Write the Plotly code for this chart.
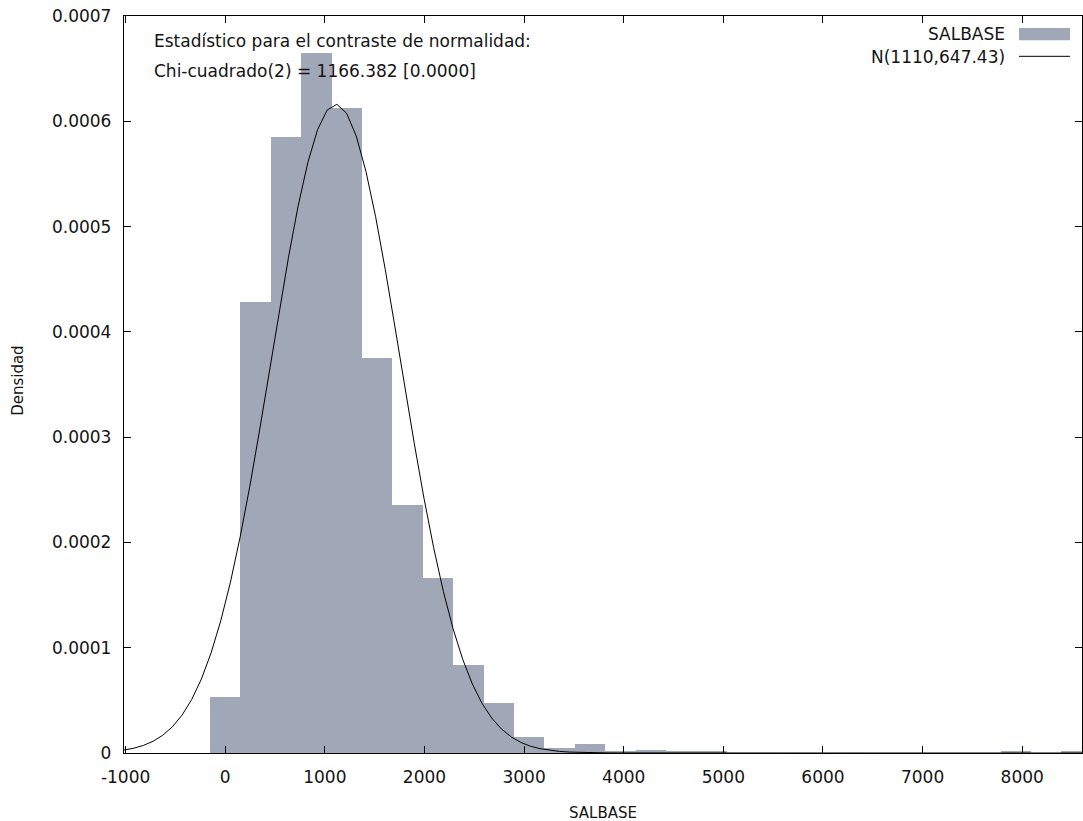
import numpy as np
import plotly.graph_objects as go

# ---- data ----
bin_centers = [0, 305, 610, 916, 1221, 1526, 1831, 2136, 2442, 2747, 3052, 3357,
               3662, 3968, 4273, 4578, 4883, 5188, 5494, 5799, 6104, 6409, 6714,
               7020, 7325, 7630, 7935, 8240, 8546]
densities = [0.0000536, 0.000428, 0.000585, 0.000665, 0.000613, 0.000375,
             0.000236, 0.0001665, 0.0000839, 0.0000475, 0.0000152, 0.0000046,
             0.0000085, 0.0000019, 0.0000031, 0.0000010, 0.0000014, 0, 0, 0, 0,
             0, 0, 0, 0, 0, 0.0000012, 0, 0.0000012]
bin_width = 305.2
normal_mean = 1110
normal_sd = 647.43
x_ticks = [-1000, 0, 1000, 2000, 3000, 4000, 5000, 6000, 7000, 8000]
x_ticklabels = ["-1000", "0", "1000", "2000", "3000", "4000", "5000", "6000", "7000", "8000"]
y_ticks = [0, 0.0001, 0.0002, 0.0003, 0.0004, 0.0005, 0.0006, 0.0007]
y_ticklabels = ["0", "0.0001", "0.0002", "0.0003", "0.0004", "0.0005", "0.0006", "0.0007"]
x_range = [-1016, 8600]

# normal density curve, sampled like gnuplot (100 samples)
xs = np.linspace(x_range[0], x_range[1], 100)
ys = np.exp(-0.5 * ((xs - normal_mean) / normal_sd) ** 2) / (normal_sd * np.sqrt(2 * np.pi))

FONT = "DejaVu Sans"
BAR = "rgb(160,167,182)"
TXT = "rgb(20,20,20)"
FS = 17

fig = go.Figure()
fig.add_trace(go.Bar(x=bin_centers, y=densities, width=bin_width,
                     marker=dict(color=BAR, line=dict(width=0)),
                     showlegend=False, name="SALBASE"))
fig.add_trace(go.Scatter(x=xs, y=ys, mode="lines",
                         line=dict(color="black", width=1),
                         showlegend=False, name="N(1110,647.43)"))

axis_common = dict(showline=True, linecolor="black", linewidth=1.3, mirror="ticks",
                   ticks="inside", ticklen=7, tickcolor="black", tickwidth=1,
                   showgrid=False, zeroline=False,
                   tickfont=dict(family=FONT, size=FS, color=TXT))
fig.update_xaxes(range=x_range, tickvals=x_ticks, ticktext=x_ticklabels,
                 ticklabelstandoff=8, **axis_common)
fig.update_yaxes(range=[0, 0.0007], tickvals=y_ticks, ticktext=y_ticklabels,
                 ticklabelstandoff=8, **axis_common)

ann = []
ann.append(dict(text="Estadístico para el contraste de normalidad:", x=0.0292, y=0.9657,
                xref="paper", yref="paper", xanchor="left", yanchor="middle",
                showarrow=False, font=dict(family=FONT, size=FS, color=TXT)))
ann.append(dict(text="Chi-cuadrado(2) = 1166.382 [0.0000]", x=0.0292, y=0.925,
                xref="paper", yref="paper", xanchor="left", yanchor="middle",
                showarrow=False, font=dict(family=FONT, size=FS, color=TXT)))
ann.append(dict(text="SALBASE", x=0.9217, y=0.9754, xref="paper", yref="paper",
                xanchor="right", yanchor="middle", showarrow=False,
                font=dict(family=FONT, size=FS, color=TXT)))
ann.append(dict(text="N(1110,647.43)", x=0.9217, y=0.9449, xref="paper", yref="paper",
                xanchor="right", yanchor="middle", showarrow=False,
                font=dict(family=FONT, size=FS, color=TXT)))
ann.append(dict(text="Densidad", x=-0.1106, y=0.505, xref="paper", yref="paper",
                xanchor="center", yanchor="middle", textangle=-90, showarrow=False,
                font=dict(family=FONT, size=15, color=TXT)))
ann.append(dict(text="SALBASE", x=0.5, y=-0.081, xref="paper", yref="paper",
                xanchor="center", yanchor="middle", showarrow=False,
                font=dict(family=FONT, size=15, color=TXT)))

shapes = [
    dict(type="rect", xref="paper", yref="paper", x0=0.9342, x1=0.9875, y0=0.967, y1=0.9838,
         fillcolor=BAR, line=dict(width=0)),
    dict(type="line", xref="paper", yref="paper", x0=0.9342, x1=0.9875, y0=0.9453, y1=0.9453,
         line=dict(color="black", width=1)),
]

fig.update_layout(width=1083, height=821, margin=dict(l=124, r=1, t=16, b=68),
                  plot_bgcolor="white", paper_bgcolor="white", bargap=0,
                  annotations=ann, shapes=shapes,
                  font=dict(family=FONT, size=FS, color=TXT))
fig.write_html("out.html")
